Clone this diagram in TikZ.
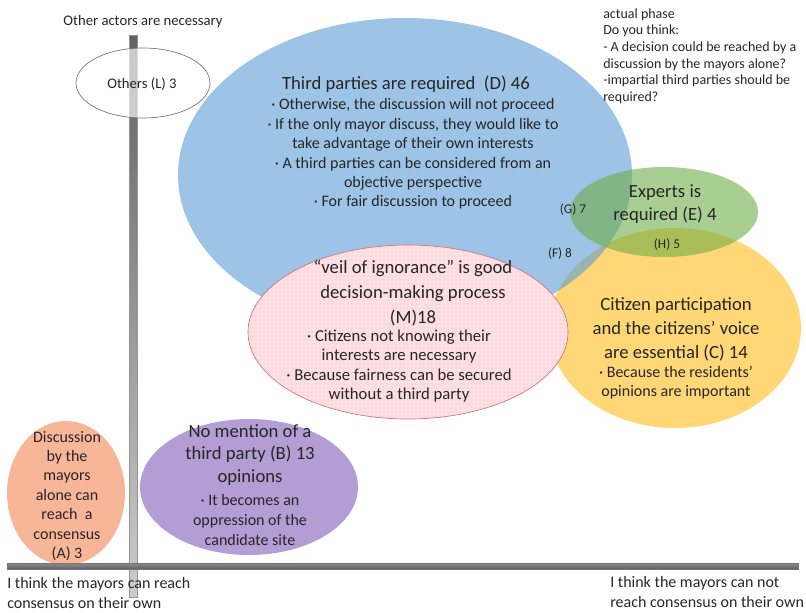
\documentclass[tikz,border=0pt]{standalone}
\usepackage{fontspec}
\setmainfont{Carlito}
\usetikzlibrary{shapes.geometric,patterns}

\definecolor{ink}{RGB}{38,38,38}
\definecolor{dblue}{RGB}{91,155,213}
\definecolor{egreen}{RGB}{112,173,71}
\definecolor{cgold}{RGB}{255,215,118}
\definecolor{mpink}{RGB}{252,224,228}
\definecolor{mdot}{RGB}{240,182,190}
\definecolor{mline}{RGB}{214,110,120}
\definecolor{bpurple}{RGB}{178,158,212}
\definecolor{asalmon}{RGB}{248,182,152}

\newcommand\fs[2]{\fontsize{#1}{#2}\selectfont}

\begin{document}
\begin{tikzpicture}[x=0.75pt,y=-0.75pt,
  blob/.style={ellipse, inner sep=0pt, draw=none},
  txt/.style={text=ink, align=center, inner sep=0pt},
  head/.style={txt, font=\fs{14}{18.5}},
  body/.style={txt, font=\fs{12}{14.6}},
  small/.style={txt, font=\fs{10.5}{12.4}},
  tag/.style={txt, font=\fs{10}{12}},
]
\useasboundingbox (0,0) rectangle (806,612);

% opinion groups
\node[blob, fill=cgold, minimum width=252*0.75pt, minimum height=200*0.75pt] (C) at (675,328) {};
\node[blob, fill=dblue, fill opacity=0.6, minimum width=454*0.75pt, minimum height=314*0.75pt] (D) at (405,175) {};
\node[blob, fill=mpink, draw=mline, line width=0.5pt, minimum width=320*0.75pt, minimum height=174*0.75pt,
      postaction={pattern=dots, pattern color=mdot}] (M) at (408,332) {};
\node[blob, fill=egreen, fill opacity=0.6, minimum width=188*0.75pt, minimum height=90*0.75pt] (E) at (664,212) {};
\node[blob, fill=bpurple, minimum width=218*0.75pt, minimum height=136*0.75pt] (B) at (249,487) {};
\node[blob, fill=asalmon, minimum width=118*0.75pt, minimum height=144*0.75pt] (A) at (66,493) {};

% axes
\shade[top color=black!62, bottom color=black!20, draw=black!42, line width=0.4pt]
  (129,35) rectangle (137,597);
\shade[top color=black!45, bottom color=black!62, draw=black!55, line width=0.4pt]
  (7,563) rectangle (798,569);

\node[blob, fill=white, fill opacity=0.66, draw=black!55, line width=0.5pt,
      minimum width=134*0.75pt, minimum height=70*0.75pt] (L) at (143,83) {};

% texts
\node[small, font=\fs{11}{13}] (top) at (143,22) {Other actors are necessary};
\node[txt, font=\fs{11}{13}] (Lt) at (142,84) {Others (L) 3};
\node[small, align=left, anchor=west] (q) at (603,56)
  {actual phase\\Do you think:\\- A decision could be reached by a\\discussion by the mayors alone?\\-impartial third parties should be\\required?};

\node[head] (Dh) at (406,84) {Third parties are required\ \ (D) 46};
\node[body] (Db) at (413,154) {· Otherwise, the discussion will not proceed\\
  · If the only mayor discuss, they would like to\\take advantage of their own interests\\
  · A third parties can be considered from an\\objective perspective\\· For fair discussion to proceed};

\node[tag] (G) at (573,210) {(G) 7};
\node[tag] (F) at (560,254) {(F) 8};
\node[tag] (H) at (667,245) {(H) 5};

\node[head, font=\fs{14}{17}] (Et) at (665,204) {Experts is\\required (E) 4};

\node[head, font=\fs{14}{18.8}] (Mh) at (413,293) {“veil of ignorance” is good\\decision-making process\\(M)18};
\node[body, font=\fs{12.5}{14.6}] (Mb) at (399,366) {· Citizens not knowing their\\interests are necessary\\· Because fairness can be secured\\without a third party};

\node[head, font=\fs{14}{18}] (Ch) at (676,329) {Citizen participation\\and the citizens’ voice\\are essential (C) 14};
\node[body, font=\fs{12}{14.3}] (Cb) at (676,383) {· Because the residents’\\opinions are important};

\node[head, font=\fs{14}{17}] (Bh) at (250,455) {No mention of a\\third party (B) 13\\opinions};
\node[body, font=\fs{12}{15}] (Bb) at (250,520) {· It becomes an\\oppression of the\\candidate site};

\node[body] (At) at (67,496) {Discussion\\by the\\mayors\\alone can\\reach\ \ a\\consensus\\(A) 3};

\node[body, font=\fs{12}{15}, align=left, anchor=west] (xl) at (7,593) {I think the mayors can reach\\consensus on their own};
\node[body, font=\fs{12}{15}, align=left, anchor=west] (xr) at (610,592) {I think the mayors can not\\reach consensus on their own};
\end{tikzpicture}
\end{document}
